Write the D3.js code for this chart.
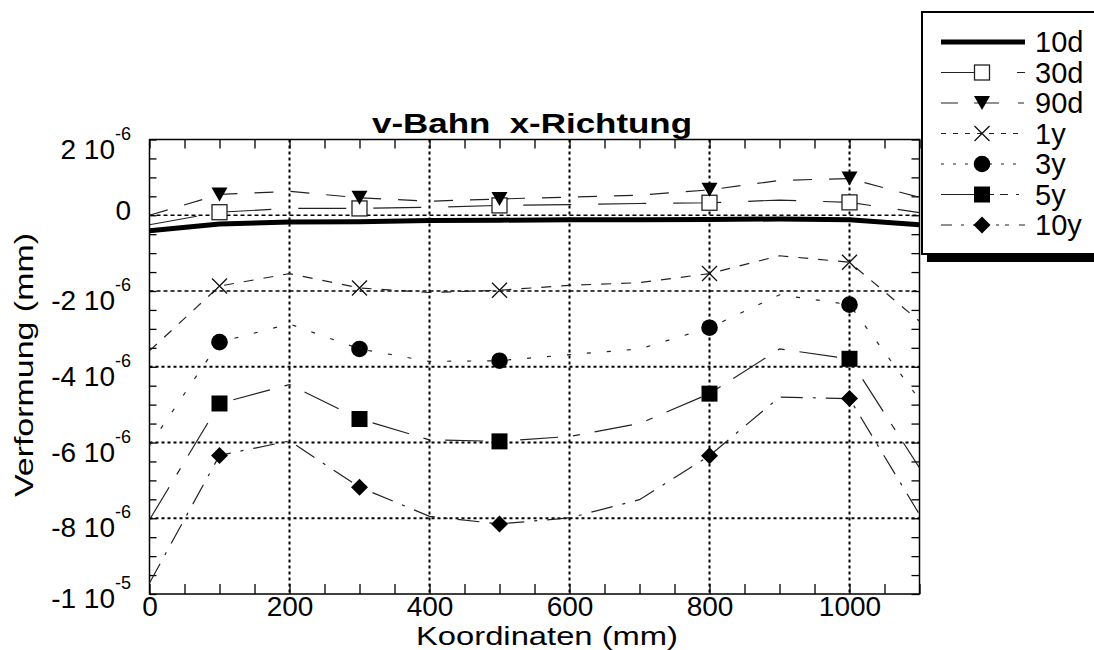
<!DOCTYPE html>
<html><head><meta charset="utf-8">
<script src="https://cdn.jsdelivr.net/npm/d3@7"></script>
<style>
body{margin:0;background:#fff}
text{font-family:"Liberation Sans",Arial,Helvetica,sans-serif;fill:#000}
</style>
</head><body>
<svg id="chart" width="1094" height="650"></svg>
<script>
// ---- data (deformation values in units of 10^-6 mm) ----
const xCoords = [0,100,200,300,400,500,600,700,800,900,1000,1100];
const markerCoords = [100,300,500,800,1000];
const seriesNames = ["10d","30d","90d","1y","3y","5y","10y"];
const v10d = [-0.41,-0.23,-0.18,-0.17,-0.14,-0.13,-0.12,-0.12,-0.11,-0.10,-0.12,-0.25];
const v30d = [-0.25,0.08,0.18,0.18,0.21,0.26,0.28,0.31,0.33,0.40,0.34,0.07];
const v90d = [0.00,0.55,0.63,0.46,0.37,0.43,0.48,0.53,0.67,0.92,0.97,0.47];
const v1y  = [-3.58,-1.87,-1.54,-1.92,-2.04,-1.98,-1.85,-1.78,-1.54,-1.07,-1.24,-2.80];
const v3y  = [-6.07,-3.35,-2.87,-3.53,-3.86,-3.84,-3.68,-3.53,-2.97,-2.10,-2.36,-4.87];
const v5y  = [-8.04,-4.97,-4.47,-5.38,-5.93,-5.97,-5.84,-5.50,-4.71,-3.53,-3.79,-6.67];
const v10y = [-9.71,-6.34,-5.96,-7.18,-7.95,-8.15,-7.99,-7.51,-6.35,-4.80,-4.84,-7.90];
const xTickValues = [0,200,400,600,800,1000];
const xTickLabels = ["0","200","400","600","800","1000"];
const yTickValues = [2,0,-2,-4,-6,-8,-10];
const yTickMantissa = ["2 10","0","-2 10","-4 10","-6 10","-8 10","-1 10"];
const yTickExponent = ["-6","","-6","-6","-6","-6","-5"];
const titleText = "v-Bahn  x-Richtung";
const xTitle = "Koordinaten (mm)";
const yTitle = "Verformung (mm)";

// ---- styles ----
const seriesValues = [v10d,v30d,v90d,v1y,v3y,v5y,v10y];
const markerType = [null,"osq","tri","cross","circle","sq","diamond"];
const plotDash = ["none","48,27","19,17","10,10","4,16","38,15,7,15","22,10,3,10"];
const legendDash = ["none","49,27,8,30","17,16,25,19,6,20","5,7","3,9","53,6,8,8,3,6,4,10","11,9,3,9,3,10,3,7,3,6,4,10"];
const lineWidth = [5,1.2,1.2,1.2,1.2,1.2,1.2];

const svg = d3.select("#chart");
const x = d3.scaleLinear().domain([0,1100]).range([149.5,919.5]);
const y = d3.scaleLinear().domain([-10,2]).range([594,139.5]);

// gridlines
const grid = svg.append("g");
grid.selectAll("line.vg").data(xTickValues.filter(d=>d>0)).join("line")
  .attr("x1",d=>x(d)).attr("x2",d=>x(d)).attr("y1",y(2)).attr("y2",y(-10))
  .attr("stroke","#000").attr("stroke-width",2).attr("stroke-dasharray","3,3");
grid.selectAll("line.hg").data(yTickValues.filter(d=>d<2&&d>-10)).join("line")
  .attr("x1",x(0)).attr("x2",x(1100)).attr("y1",d=>y(d)).attr("y2",d=>y(d))
  .attr("stroke","#000").attr("stroke-width",d=>d>-3?1.3:2).attr("stroke-dasharray",d=>d>-3?"4,3":"3,3");

// minor / major ticks via d3 axes (inside)
const xMinor = d3.range(0,1101,50), yMinor = d3.range(-10,2.001,0.5);
function cleanAxis(g){ g.select(".domain").remove(); g.selectAll("line").attr("stroke","#000").attr("stroke-width",1.3); }
svg.append("g").attr("transform",`translate(0,${y(-10)})`)
  .call(d3.axisTop(x).tickValues(xMinor).tickSize(10).tickFormat("")).call(cleanAxis);
svg.append("g").attr("transform",`translate(0,${y(2)})`)
  .call(d3.axisBottom(x).tickValues(xMinor).tickSize(9).tickFormat("")).call(cleanAxis);
svg.append("g").attr("transform",`translate(${x(0)},0)`)
  .call(d3.axisRight(y).tickValues(yMinor).tickSize(7).tickFormat("")).call(cleanAxis);
svg.append("g").attr("transform",`translate(${x(1100)},0)`)
  .call(d3.axisLeft(y).tickValues(yMinor).tickSize(8).tickFormat("")).call(cleanAxis);

// frame
svg.append("rect").attr("x",x(0)).attr("y",y(2)).attr("width",x(1100)-x(0)).attr("height",y(-10)-y(2))
  .attr("fill","none").attr("stroke","#000").attr("stroke-width",1.5);

// x tick labels
svg.append("g").attr("transform",`translate(0,616)`)
  .call(d3.axisBottom(x).tickValues(xTickValues).tickSize(0).tickFormat((d,i)=>xTickLabels[i]))
  .call(g=>{g.select(".domain").remove(); g.selectAll("text").attr("dy",0).attr("y",0)
    .style("font-size","28px").style("font-family","Liberation Sans, Arial, sans-serif");});

// y tick labels
const yl = svg.append("g");
yTickValues.forEach((v,i)=>{
  const base = Math.max(145, Math.min(608, y(v) + (yTickExponent[i] ? 19 : 4.5)));
  const t = yl.append("text").attr("x",131).attr("y",base).attr("text-anchor","end")
    .style("font-size","28px").style("white-space","pre");
  t.append("tspan").text(yTickMantissa[i]);
  if (yTickExponent[i]) t.append("tspan").attr("dy",-19).style("font-size","18px").text(yTickExponent[i]);
});

// titles
svg.append("text").attr("x",532).attr("y",133).attr("text-anchor","middle")
  .style("font-size","28px").style("font-weight","bold").style("white-space","pre")
  .attr("textLength",320).attr("lengthAdjust","spacingAndGlyphs").text(titleText);
svg.append("text").attr("x",547).attr("y",645).attr("text-anchor","middle")
  .style("font-size","25px").attr("textLength",262).attr("lengthAdjust","spacingAndGlyphs").text(xTitle);
svg.append("text").attr("transform","translate(33,365) rotate(-90)").attr("text-anchor","middle")
  .style("font-size","26px").attr("textLength",264).attr("lengthAdjust","spacingAndGlyphs").text(yTitle);

// markers
function drawMarker(g, type, cx, cy){
  if(type==="osq") g.append("rect").attr("x",cx-7.5).attr("y",cy-7.5).attr("width",15).attr("height",15).attr("fill","#fff").attr("stroke","#222").attr("stroke-width",1.3);
  else if(type==="sq") g.append("rect").attr("x",cx-8).attr("y",cy-8).attr("width",16).attr("height",16).attr("fill","#000");
  else if(type==="tri") g.append("path").attr("d",`M${cx-8},${cy-7}L${cx+8},${cy-7}L${cx},${cy+7}Z`).attr("fill","#000");
  else if(type==="cross") g.append("path").attr("d",`M${cx-7.5},${cy-7.5}L${cx+7.5},${cy+7.5}M${cx-7.5},${cy+7.5}L${cx+7.5},${cy-7.5}`).attr("stroke","#111").attr("stroke-width",1.3).attr("fill","none");
  else if(type==="circle") g.append("circle").attr("cx",cx).attr("cy",cy).attr("r",8.3).attr("fill","#000");
  else if(type==="diamond") g.append("path").attr("d",`M${cx},${cy-8.5}L${cx+8.5},${cy}L${cx},${cy+8.5}L${cx-8.5},${cy}Z`).attr("fill","#000");
}

// series lines
const line = d3.line().x(d=>x(d[0])).y(d=>y(d[1]));
const lines = svg.append("g");
seriesValues.forEach((vals,i)=>{
  const pts = xCoords.map((c,j)=>[c,vals[j]]);
  lines.append("path").datum(pts).attr("d",line).attr("fill","none")
    .attr("stroke",i===0?"#000":"#222").attr("stroke-width",lineWidth[i])
    .attr("stroke-dasharray",plotDash[i]);
});
const marks = svg.append("g");
seriesValues.forEach((vals,i)=>{
  if(!markerType[i]) return;
  markerCoords.forEach(c=>{ drawMarker(marks, markerType[i], x(c), y(vals[xCoords.indexOf(c)])); });
});

// legend
const lg = svg.append("g");
lg.append("rect").attr("x",927).attr("y",254).attr("width",180).attr("height",8).attr("fill","#000");
lg.append("rect").attr("x",922).attr("y",12).attr("width",180).attr("height",242).attr("fill","#fff").attr("stroke","#000").attr("stroke-width",2);
seriesNames.forEach((name,i)=>{
  const ry = 42 + 30.5*i;
  lg.append("line").attr("x1",941).attr("x2",1025).attr("y1",ry).attr("y2",ry)
    .attr("stroke",i===0?"#000":"#222").attr("stroke-width",i===0?5:1.2).attr("stroke-dasharray",legendDash[i]);
  if(markerType[i]) drawMarker(lg, markerType[i], 982, ry);
  lg.append("text").attr("x",1035).attr("y",ry+10).style("font-size","29px").text(name);
});
</script>
</body></html>
